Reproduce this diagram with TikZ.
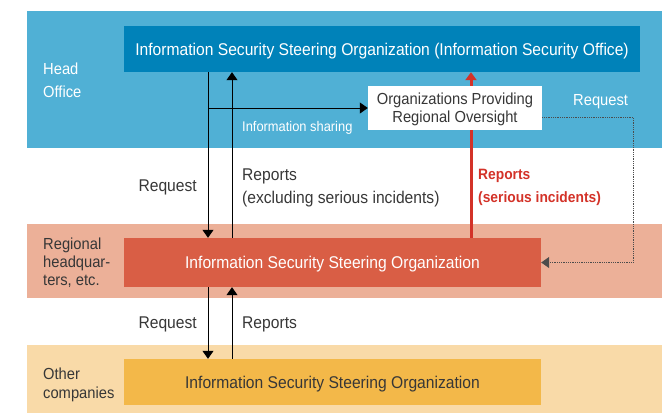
\documentclass[tikz,border=0pt]{standalone}
\usepackage{fontspec}
\setmainfont{Liberation Sans}[FakeStretch=0.92]
\usetikzlibrary{arrows.meta,positioning}
\definecolor{headband}{RGB}{80,176,213}
\definecolor{headbox}{RGB}{0,130,185}
\definecolor{regband}{RGB}{236,176,152}
\definecolor{regbox}{RGB}{217,94,69}
\definecolor{othband}{RGB}{249,218,168}
\definecolor{othbox}{RGB}{243,184,73}
\definecolor{alarm}{RGB}{211,50,40}
\definecolor{ink}{RGB}{55,55,55}
\tikzset{
  org/.style={inner sep=0pt, align=center, text depth=0pt, font=\fontsize{17}{18}\selectfont},
  side/.style={anchor=west, align=left, inner sep=0pt, text depth=0pt, text=ink},
  lbl/.style={inner sep=0pt, text=ink, text depth=0pt, font=\fontsize{17}{23}\selectfont},
  flow/.style={-{Triangle[length=8pt,width=11pt]}, line width=1pt},
  redflow/.style={-{Triangle[length=8pt,width=11pt]}, line width=3pt, alarm},
  dots/.style={-{Triangle[length=8pt,width=11pt]}, densely dotted, draw=gray!60!black, line width=0.8pt},
}
\begin{document}
\begin{tikzpicture}[x=1pt, y=-1pt]
  \useasboundingbox (0,0) rectangle (662,413);
  \fill[headband] (27,11) rectangle (662,148);
  \fill[regband] (27,224) rectangle (662,298);
  \fill[othband] (27,345) rectangle (662,413);

  \node[side, text=white, font=\fontsize{16}{23}\selectfont] (hq) at (43,80.5) {Head\\Office};
  \node[side, font=\fontsize{16}{18}\selectfont] (rg) at (43,262) {Regional\\headquar-\\ters, etc.};
  \node[side, font=\fontsize{16}{19}\selectfont] (oc) at (43,383.5) {Other\\companies};

  \node[org, fill=headbox, text=white, minimum width=516pt, minimum height=46pt] (top) at (382,49)
    {Information Security Steering Organization (Information Security Office)};
  \node[org, fill=regbox, text=white, minimum width=417pt, minimum height=49pt] (reg) at (332.5,262.5)
    {Information Security Steering Organization};
  \node[org, fill=othbox, text=ink, minimum width=417pt, minimum height=46pt] (oth) at (332.5,382)
    {Information Security Steering Organization};

  \coordinate (dn) at (208,0);
  \coordinate (up) at (232,0);
  \coordinate (rd) at (471,0);
  \coordinate (rt) at (633,0);

  \draw[redflow] (reg.north -| rd) -- (top.south -| rd);
  \node[org, fill=white, text=ink, minimum width=174pt, minimum height=44pt, font=\fontsize{16}{18}\selectfont] (ovs) at (455,108)
    {Organizations Providing\\Regional Oversight};

  \draw[flow] (top.south -| dn) -- (reg.north -| dn);
  \draw[flow] (reg.north -| up) -- (top.south -| up);
  \draw[flow] (ovs.west -| dn) -- (ovs.west);
  \draw[dots] ([yshift=-9pt]ovs.east) -| (reg.east -| rt) -- (reg.east);
  \draw[flow] (reg.south -| dn) -- (oth.north -| dn);
  \draw[flow] (oth.north -| up) -- (reg.south -| up);

  \node[lbl, text=white, anchor=west, font=\fontsize{14}{16}\selectfont] (share) at (242,126) {Information sharing};
  \node[lbl, text=white, anchor=west, font=\fontsize{16}{18}\selectfont] (req0) at (573,100) {Request};
  \node[lbl, anchor=east] (req1) at (197,186) {Request};
  \node[lbl, anchor=west, align=left] (rep1) at (242,186) {Reports\\(excluding serious incidents)};
  \node[lbl, anchor=west, align=left, text=alarm, font=\fontsize{15}{23}\selectfont\bfseries] (rep2) at (478,186)
    {Reports\\(serious incidents)};
  \node[lbl, anchor=east] (req2) at (197,323) {Request};
  \node[lbl, anchor=west] (rep3) at (242,323) {Reports};
\end{tikzpicture}
\end{document}
